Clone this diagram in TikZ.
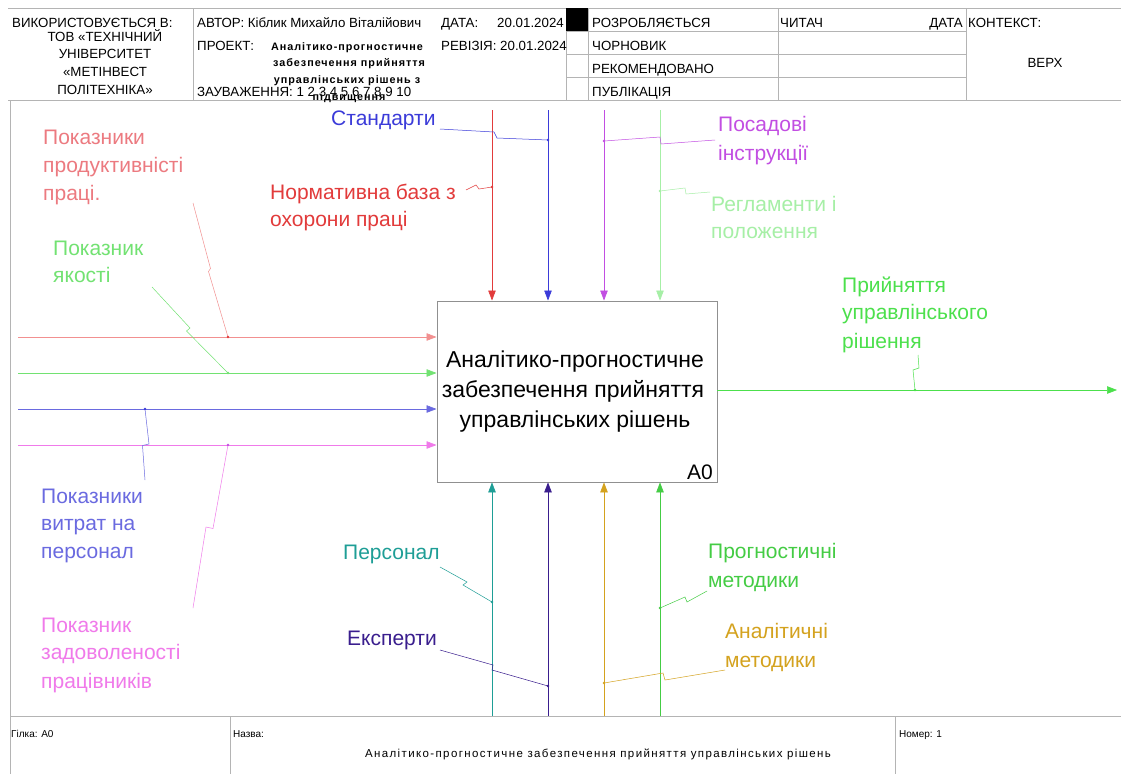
\documentclass[tikz,border=0pt]{standalone}
\usepackage{fontspec}
\setmainfont{Liberation Sans}
\newfontfamily\prjfont[LetterSpace=9]{Liberation Sans Bold}
\newfontfamily\ftfont[LetterSpace=12]{Liberation Sans}
\usetikzlibrary{arrows.meta}
\definecolor{cRedL}{HTML}{EC7A80}
\definecolor{cRedLine}{HTML}{F29090}
\definecolor{cRed}{HTML}{E23B3B}
\definecolor{cBlue}{HTML}{3B3BD9}
\definecolor{cPurp}{HTML}{C24EE2}
\definecolor{cLGreen}{HTML}{A6EFA6}
\definecolor{cGreenL}{HTML}{72E272}
\definecolor{cBlueL}{HTML}{6A6AE0}
\definecolor{cPink}{HTML}{F07AEA}
\definecolor{cOut}{HTML}{4CE04C}
\definecolor{cTeal}{HTML}{1E9E96}
\definecolor{cIndigo}{HTML}{3A1E8E}
\definecolor{cGold}{HTML}{D4A21E}
\definecolor{cGreen}{HTML}{44CC44}
\definecolor{cFrame}{HTML}{B4B4B4}
\newcommand\hdrfont{\fontsize{13.3}{15}\selectfont}
\newcommand\lblfont{\fontsize{21}{26}\selectfont}
\newcommand\boxfont{\fontsize{23}{28}\selectfont}
\newcommand\prjsize{\prjfont\fontsize{10.8}{12}\selectfont}
\begin{document}
\begin{tikzpicture}[x=1pt,y=-1pt,
  frame/.style={draw=cFrame, line width=0.9pt},
  txt/.style={inner sep=0pt, anchor=base west},
  hdr/.style={txt, font=\hdrfont},
  lbl/.style={txt, font=\lblfont},
  arr/.style={line width=0.6pt, -{Triangle[length=10pt,width=7.5pt]}},
  sq/.style={line width=0.5pt},
  ]
\useasboundingbox (0,0) rectangle (1121,774);
\fill[white] (0,0) rectangle (1121,774);

% ---------- frame ----------
\draw[frame] (8,8) -- (1121,8);
\draw[frame] (8,100) -- (1121,100);
\draw[frame] (10,100) -- (10,774);
\draw[frame] (10,716) -- (1121,716);
\draw[frame] (230,716) -- (230,774);
\draw[frame] (895,716) -- (895,774);
\foreach \xx in {193,566,588,778,966} \draw[frame] (\xx,8) -- (\xx,100);
\foreach \yy in {31,54,77} \draw[frame] (566,\yy) -- (966,\yy);
\fill[black] (566,8) rectangle (588,31);

% ---------- header text ----------
\node[hdr] (h1) at (12,27) {ВИКОРИСТОВУЄТЬСЯ В:};
\node[hdr, anchor=base] (h2) at (105,41) {ТОВ «ТЕХНІЧНИЙ};
\node[hdr, anchor=base] (h3) at (105,58) {УНІВЕРСИТЕТ};
\node[hdr, anchor=base] (h4) at (105,76) {«МЕТІНВЕСТ};
\node[hdr, anchor=base] (h5) at (105,94) {ПОЛІТЕХНІКА»};
\node[hdr] (h6) at (197,27) {АВТОР: Кіблик Михайло Віталійович};
\node[hdr] (h7) at (441,27) {ДАТА:};
\node[hdr, anchor=base east] (h8) at (564,27) {20.01.2024};
\node[hdr] (h9) at (197,50) {ПРОЕКТ:};
\node[txt, anchor=base, font=\prjsize] (p1) at (347,50) {Аналітико-прогностичне};
\node[txt, anchor=base, font=\prjsize] (p2) at (349,66) {забезпечення прийняття};
\node[txt, anchor=base, font=\prjsize] (p3) at (347,83) {управлінських рішень з};
\node[txt, anchor=base, font=\prjsize] (p4) at (349,100) {підвищення};
\node[hdr] (h10) at (197,96) {ЗАУВАЖЕННЯ: 1 2 3 4 5 6 7 8 9 10};
\node[hdr] (h11) at (441,50) {РЕВІЗІЯ: 20.01.2024};
\node[hdr] (h12) at (592,27) {РОЗРОБЛЯЄТЬСЯ};
\node[hdr] (h13) at (592,50) {ЧОРНОВИК};
\node[hdr] (h14) at (592,73) {РЕКОМЕНДОВАНО};
\node[hdr] (h15) at (592,96) {ПУБЛІКАЦІЯ};
\node[hdr] (h16) at (780,27) {ЧИТАЧ};
\node[hdr, anchor=base east] (h17) at (963,27) {ДАТА};
\node[hdr] (h18) at (968,27) {КОНТЕКСТ:};
\node[hdr, anchor=base] (h19) at (1045,67) {ВЕРХ};

% ---------- footer ----------
\node[txt, font=\fontsize{10}{12}\selectfont] (f1) at (11,737) {Гілка: A0};
\node[txt, font=\fontsize{10}{12}\selectfont] (f2) at (233,737) {Назва:};
\node[txt, font=\fontsize{10}{12}\selectfont] (f3) at (899,737) {Номер: 1};
\node[txt, anchor=base, font=\ftfont\fontsize{11.5}{13}\selectfont] (f4) at (598,757) {Аналітико-прогностичне забезпечення прийняття управлінських рішень};

% ---------- main box ----------
\node[draw=cFrame!80!black, line width=0.9pt, minimum width=280pt, minimum height=181pt,
      anchor=north west, inner sep=0pt] (box) at (436.5,300.5) {};
\node[txt, anchor=base, font=\boxfont] (b1) at (575,367) {Аналітико-прогностичне};
\node[txt, anchor=base, font=\boxfont] (b2) at (573,397) {забезпечення прийняття};
\node[txt, anchor=base, font=\boxfont] (b3) at (575,427) {управлінських рішень};
\node[txt, anchor=base east, font=\fontsize{21}{24}\selectfont] (b4) at (713,479) {A0};

% ---------- arrow coordinates ----------
\coordinate (inA) at (18,337);
\coordinate (inB) at (18,373);
\coordinate (inC) at (18,409);
\coordinate (inD) at (18,445);
\coordinate (ctA) at (492,110);
\coordinate (ctB) at (548,110);
\coordinate (ctC) at (604,110);
\coordinate (ctD) at (660,110);
\coordinate (mA) at (492,716);
\coordinate (mB) at (548,716);
\coordinate (mC) at (604,716);
\coordinate (mD) at (660,716);
\coordinate (outE) at (1117,390);

\draw[arr, cRedLine] (inA) -- (inA -| box.west);
\draw[arr, cGreenL] (inB) -- (inB -| box.west);
\draw[arr, cBlueL] (inC) -- (inC -| box.west);
\draw[arr, cPink] (inD) -- (inD -| box.west);
\draw[arr, cRed] (ctA) -- (ctA |- box.north);
\draw[arr, cBlue] (ctB) -- (ctB |- box.north);
\draw[arr, cPurp] (ctC) -- (ctC |- box.north);
\draw[arr, cLGreen] (ctD) -- (ctD |- box.north);
\draw[arr, cTeal] (mA) -- (mA |- box.south);
\draw[arr, cIndigo] (mB) -- (mB |- box.south);
\draw[arr, cGold] (mC) -- (mC |- box.south);
\draw[arr, cGreen] (mD) -- (mD |- box.south);
\draw[arr, cOut] (box.east |- outE) -- (outE);

% ---------- labels ----------
\node[lbl, text=cRedL] (la1) at (43,144) {Показники};
\node[lbl, text=cRedL] (la2) at (43,172) {продуктивністі};
\node[lbl, text=cRedL] (la3) at (43,200) {праці.};
\node[lbl, text=cGreenL] (lb1) at (53,255) {Показник};
\node[lbl, text=cGreenL] (lb2) at (53,282) {якості};
\node[lbl, text=cBlueL] (lc1) at (41,503) {Показники};
\node[lbl, text=cBlueL] (lc2) at (41,530) {витрат на};
\node[lbl, text=cBlueL] (lc3) at (41,558) {персонал};
\node[lbl, text=cPink] (ld1) at (41,632) {Показник};
\node[lbl, text=cPink] (ld2) at (41,659) {задоволеності};
\node[lbl, text=cPink] (ld3) at (41,688) {працівників};
\node[lbl, text=cBlue] (le1) at (331,125) {Стандарти};
\node[lbl, text=cRed] (lf1) at (270,199) {Нормативна база з};
\node[lbl, text=cRed] (lf2) at (270,226) {охорони праці};
\node[lbl, text=cPurp] (lg1) at (718,131) {Посадові};
\node[lbl, text=cPurp] (lg2) at (718,160) {інструкції};
\node[lbl, text=cLGreen] (lh1) at (711,211) {Регламенти і};
\node[lbl, text=cLGreen] (lh2) at (711,238) {положення};
\node[lbl, text=cOut] (li1) at (842,292) {Прийняття};
\node[lbl, text=cOut] (li2) at (842,319) {управлінського};
\node[lbl, text=cOut] (li3) at (842,348) {рішення};
\node[lbl, text=cTeal] (lj1) at (343,559) {Персонал};
\node[lbl, text=cIndigo] (lk1) at (347,645) {Експерти};
\node[lbl, text=cGreen] (ll1) at (708,558) {Прогностичні};
\node[lbl, text=cGreen] (ll2) at (708,587) {методики};
\node[lbl, text=cGold] (lm1) at (725,638) {Аналітичні};
\node[lbl, text=cGold] (lm2) at (725,667) {методики};

% ---------- squiggle end points ----------
\coordinate (sA) at (193,203);   \coordinate (dA) at (228,337);
\coordinate (sB) at (152,287);   \coordinate (dB) at (228,373);
\coordinate (sC) at (145,480);   \coordinate (dC) at (145,409);
\coordinate (sD) at (193,608);   \coordinate (dD) at (228,445);
\coordinate (sE) at (440,129);   \coordinate (dE) at (548,140);
\coordinate (sF) at (466,190);   \coordinate (dF) at (492,187);
\coordinate (sG) at (715,140);   \coordinate (dG) at (604,141);
\coordinate (sH) at (710,192);   \coordinate (dH) at (660,191);
\coordinate (sI) at (918,355);   \coordinate (dI) at (915,390);
\coordinate (sJ) at (440,567);   \coordinate (dJ) at (492,602);
\coordinate (sK) at (440,650);   \coordinate (dK) at (548,686);
\coordinate (sL) at (707,591);   \coordinate (dL) at (660,608);
\coordinate (sM) at (725,670);   \coordinate (dM) at (604,683);

\draw[sq, cRedLine] (sA) -- (210.5,268.5) -- (208.5,271.5) -- (dA);
\draw[sq, cGreenL] (sB) -- (190,328) -- (186.5,331) -- (dB);
\draw[sq, cBlueL] (sC) -- (142.5,445.5) -- (149,444) -- (dC);
\draw[sq, cPink] (sD) -- (206,527) -- (213,528.5) -- (dD);
\draw[sq, cBlue] (sE) -- (494,132) -- (497,138) -- (dE);
\draw[sq, cRed] (sF) -- (476,185) -- (479,189) -- (dF);
\draw[sq, cPurp] (sG) -- (661,144) -- (660,137) -- (dG);
\draw[sq, cLGreen] (sH) -- (686,194) -- (685,188) -- (dH);
\draw[sq, cOut] (sI) -- (919,368) -- (913,370) -- (dI);
\draw[sq, cTeal] (sJ) -- (467,582) -- (463,585) -- (dJ);
\draw[sq, cIndigo] (sK) -- (493,665) -- (492,670) -- (dK);
\draw[sq, cGreen] (sL) -- (687,602) -- (685,597) -- (dL);
\draw[sq, cGold] (sM) -- (665,680) -- (663,673) -- (dM);

\foreach \p/\c in {dA/cRed,dB/cGreenL,dC/cBlue,dD/cPurp,dE/cBlue,dF/cRed,dG/cPurp,dH/cLGreen,dI/cOut,dJ/cTeal,dK/cIndigo,dL/cGreen,dM/cGold}
  \fill[\c] (\p) circle[radius=1.4];
\end{tikzpicture}
\end{document}
